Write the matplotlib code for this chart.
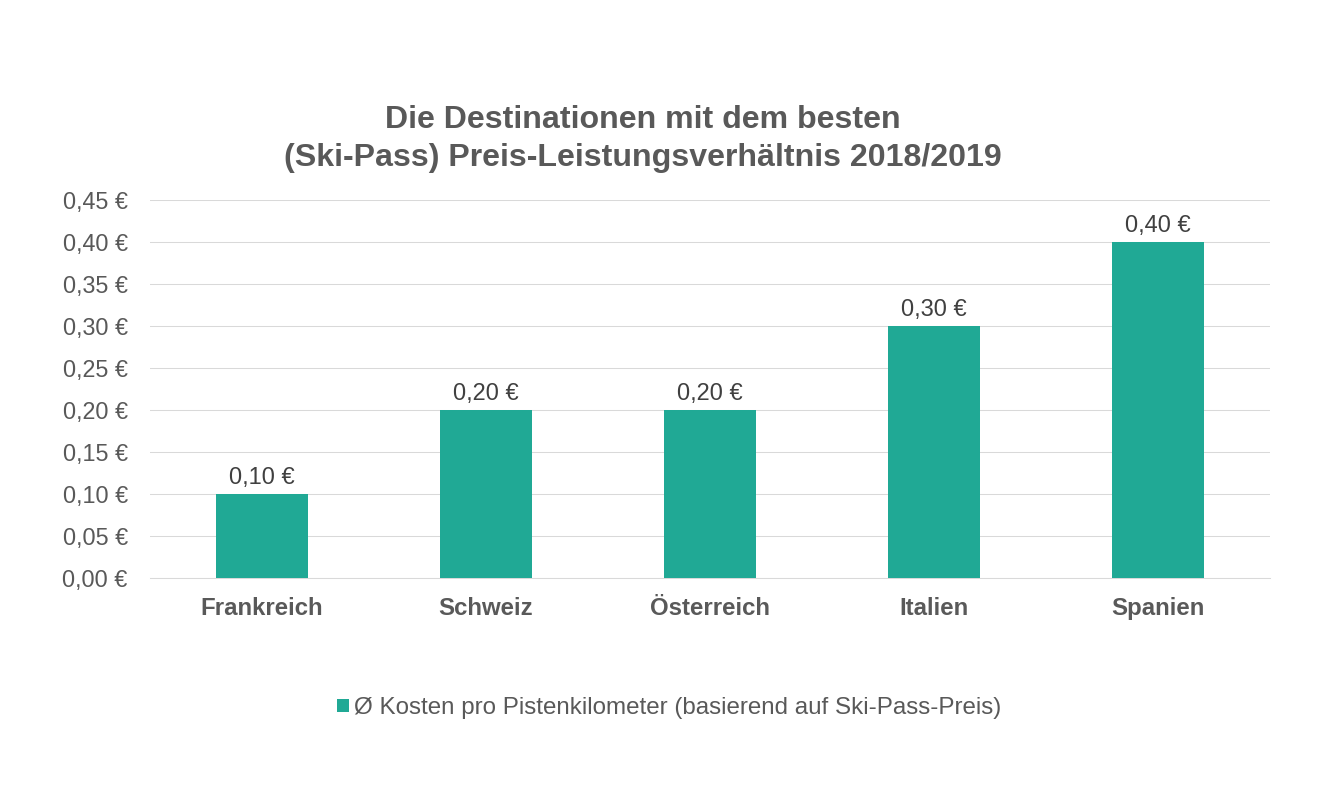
#!/usr/bin/env python3
"""Ski pass price per piste kilometre, bar chart."""

import matplotlib
matplotlib.use("Agg")
import matplotlib.pyplot as plt
from matplotlib.patches import Patch

# Data
countries = ["Frankreich", "Schweiz", "Österreich", "Italien", "Spanien"]
costs = [0.10, 0.20, 0.20, 0.30, 0.40]
y_ticks = [0.00, 0.05, 0.10, 0.15, 0.20, 0.25, 0.30, 0.35, 0.40, 0.45]
title = "Die Destinationen mit dem besten\n(Ski-Pass) Preis-Leistungsverhältnis 2018/2019"
legend_label = "Ø Kosten pro Pistenkilometer (basierend auf Ski-Pass-Preis)"

BAR_COLOR = "#20A995"
TEXT_COLOR = "#404040"
GREY_TEXT = "#595959"
GRID_COLOR = "#D9D9D9"


def euro(value):
    return f"{value:.2f}".replace(".", ",") + " €"


plt.rcParams["font.family"] = ["Liberation Sans", "DejaVu Sans"]

W, H = 1332, 800
fig = plt.figure(figsize=(W / 100, H / 100), dpi=100, facecolor="white")
ax = fig.add_axes([150 / W, 1 - 578 / H, (1270 - 150) / W, (578 - 200) / H])

x = list(range(len(countries)))
ax.bar(x, costs, width=0.41, color=BAR_COLOR, zorder=3)
ax.set_xlim(-0.5, 4.5)
ax.set_ylim(0, 0.45)

ax.set_yticks(y_ticks)
ax.set_yticklabels([euro(v) for v in y_ticks], fontsize=16.8, color=GREY_TEXT)
ax.set_xticks(x)
ax.set_xticklabels(countries, fontsize=17.3, fontweight="bold", color=GREY_TEXT)
ax.tick_params(axis="y", length=0, pad=16)
ax.tick_params(axis="x", length=0, pad=13.7)

ax.grid(axis="y", color=GRID_COLOR, linewidth=0.75, zorder=0)
ax.set_axisbelow(True)
for side in ["top", "right", "left"]:
    ax.spines[side].set_visible(False)
ax.spines["bottom"].set_color(GRID_COLOR)
ax.spines["bottom"].set_linewidth(0.75)

for xi, val in zip(x, costs):
    ax.annotate(euro(val), (xi, val), xytext=(0, 3.6), textcoords="offset points",
                ha="center", va="bottom", fontsize=17, color=TEXT_COLOR)

fig.text(643 / W, 1 - 139 / H, title, ha="center", va="center", fontsize=23.1,
         fontweight="bold", color=GREY_TEXT, linespacing=1.31)

handle = Patch(facecolor=BAR_COLOR, edgecolor="none")
fig.legend([handle], [legend_label], loc="center", bbox_to_anchor=(669.5 / W, 1 - 708 / H),
           frameon=False, fontsize=17.35, labelcolor=GREY_TEXT, handlelength=0.5,
           handleheight=0.5, handletextpad=0.2)

fig.savefig("out.png", dpi=100)
plt.close(fig)
